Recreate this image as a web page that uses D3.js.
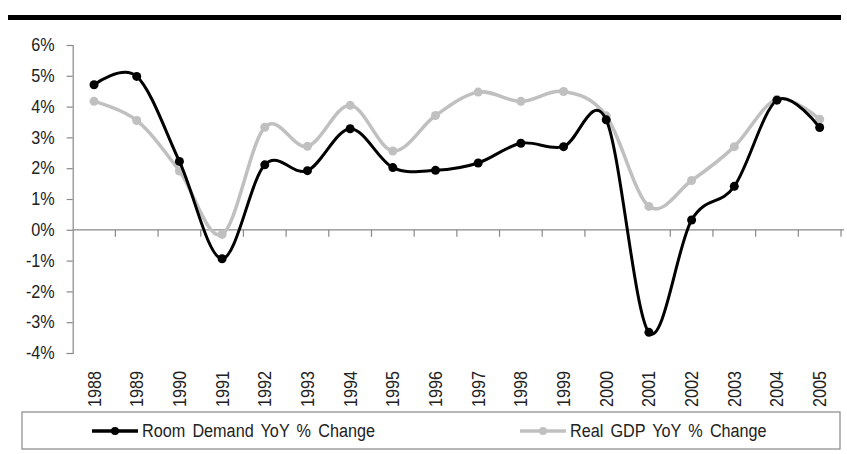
<!DOCTYPE html>
<html>
<head>
<meta charset="utf-8">
<script src="https://cdn.jsdelivr.net/npm/d3@7"></script>
<style>
  html, body { margin: 0; padding: 0; background: #fff; }
  svg { display: block; }
  text { font-family: "Liberation Sans", Arial, sans-serif; fill: #222; }
</style>
</head>
<body>
<svg id="chart" width="847" height="454"></svg>
<script>
const years = ["1988","1989","1990","1991","1992","1993","1994","1995","1996","1997","1998","1999","2000","2001","2002","2003","2004","2005"];
const roomDemand = [4.71, 4.98, 2.22, -0.94, 2.11, 1.92, 3.28, 2.02, 1.93, 2.17, 2.81, 2.70, 3.57, -3.33, 0.32, 1.41, 4.21, 3.32];
const realGDP = [4.17, 3.55, 1.91, -0.15, 3.33, 2.71, 4.04, 2.56, 3.71, 4.47, 4.17, 4.49, 3.70, 0.76, 1.60, 2.70, 4.24, 3.59];
const yTicks = [-4, -3, -2, -1, 0, 1, 2, 3, 4, 5, 6];
const seriesNames = ["Room Demand YoY % Change", "Real GDP YoY % Change"];
const seriesColors = ["#000000", "#c0c0c0"];

const svg = d3.select("#chart");
const mLeft = 72.7, mRight = 841, mTop = 45, mBottom = 353;
const FS = "18px";
const squeeze = sel => sel.each(function () {
  const w = this.getComputedTextLength();
  d3.select(this).attr("textLength", w * 0.9).attr("lengthAdjust", "spacingAndGlyphs");
});

const x = d3.scaleBand().domain(years).range([mLeft, mRight]).padding(0);
const xc = d => x(d) + x.bandwidth() / 2;
const y = d3.scaleLinear().domain([-4, 6]).range([mBottom, mTop]);

// top heavy rule
svg.append("rect").attr("x", 8).attr("y", 15).attr("width", 833).attr("height", 5).attr("fill", "#000");

// y axis
const yAxis = svg.append("g").attr("transform", `translate(${mLeft},0)`)
  .call(d3.axisLeft(y).tickValues(yTicks).tickSize(6).tickPadding(12).tickFormat(d => d + "%"));
yAxis.select(".domain").attr("stroke", "#888").attr("stroke-width", 1.2);
yAxis.selectAll(".tick line").attr("stroke", "#888").attr("stroke-width", 1.2);
yAxis.selectAll("text").style("font-size", FS).attr("fill", "#333")
  .style("font-family", "'Liberation Sans', Arial, sans-serif").call(squeeze);

// x axis at 0
const xg = svg.append("g");
xg.append("line").attr("x1", mLeft).attr("x2", mRight + 3).attr("y1", y(0)).attr("y2", y(0))
  .attr("stroke", "#888").attr("stroke-width", 1.2);
xg.selectAll("line.tk").data(years).enter().append("line")
  .attr("class", "tk")
  .attr("x1", d => x(d) + x.step())
  .attr("x2", d => x(d) + x.step())
  .attr("y1", y(0)).attr("y2", y(0) + 7)
  .attr("stroke", "#888").attr("stroke-width", 1.2);

// x labels
svg.append("g").selectAll("text").data(years).enter().append("text")
  .attr("transform", d => `translate(${xc(d)},407) rotate(-90)`)
  .attr("dy", "0.36em")
  .attr("text-anchor", "start")
  .style("font-size", FS)
  .attr("fill", "#333")
  .text(d => d).call(squeeze);

// lines
const line = d3.line().x((d, i) => xc(years[i])).y(d => y(d)).curve(d3.curveCatmullRom.alpha(0));
const series = [realGDP, roomDemand];
const cols = [seriesColors[1], seriesColors[0]];
const widths = [3.5, 3];
series.forEach((s, k) => {
  svg.append("path").datum(s).attr("d", line).attr("fill", "none")
    .attr("stroke", cols[k]).attr("stroke-width", widths[k]).attr("stroke-linejoin", "round");
  svg.append("g").selectAll("circle").data(s).enter().append("circle")
    .attr("cx", (d, i) => xc(years[i])).attr("cy", d => y(d)).attr("r", 4.5).attr("fill", cols[k]);
});

// legend
svg.append("rect").attr("x", 22).attr("y", 412).attr("width", 818).attr("height", 37)
  .attr("fill", "none").attr("stroke", "#888").attr("stroke-width", 1.2);
const legItems = [{x0: 92, name: seriesNames[0], c: seriesColors[0]}, {x0: 520, name: seriesNames[1], c: seriesColors[1]}];
legItems.forEach(it => {
  svg.append("line").attr("x1", it.x0).attr("x2", it.x0 + 46).attr("y1", 431).attr("y2", 431)
    .attr("stroke", it.c).attr("stroke-width", 3.5);
  svg.append("circle").attr("cx", it.x0 + 23).attr("cy", 431).attr("r", 4).attr("fill", it.c);
  svg.append("text").attr("x", it.x0 + 50).attr("y", 431).attr("dy", "0.36em")
    .style("font-size", FS).attr("fill", "#222").style("word-spacing", "3px").text(it.name).call(squeeze);
});
</script>
</body>
</html>
